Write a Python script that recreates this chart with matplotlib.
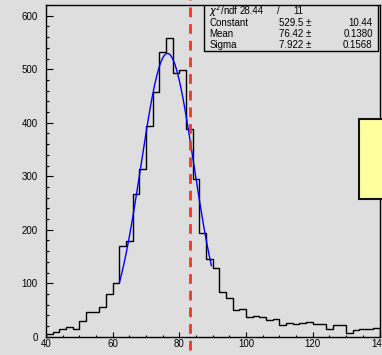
import numpy as np
import matplotlib
matplotlib.use("Agg")
import matplotlib.pyplot as plt
from matplotlib.patches import Rectangle
from matplotlib.ticker import MultipleLocator

plt.rcParams['font.family'] = ['Liberation Sans', 'DejaVu Sans']
plt.rcParams['mathtext.fontset'] = 'dejavusans'

# histogram: 50 bins of width 2 from 40 to 140
x_low = 40
bin_width = 2
counts = [5, 8, 14, 19, 14, 29, 46, 46, 55, 79,
          101, 169, 179, 266, 313, 393, 457, 533, 559, 493,
          498, 389, 294, 193, 145, 128, 83, 72, 50, 51,
          36, 39, 36, 31, 34, 21, 26, 23, 25, 28,
          24, 24, 15, 22, 22, 6, 12, 14, 15, 16]

# gaussian fit result
fit_const, fit_const_err = 529.5, 10.44
fit_mean, fit_mean_err = 76.42, 0.1380
fit_sigma, fit_sigma_err = 7.922, 0.1568
chi2, ndf = 28.44, 11
fit_range = (62, 89.6)

cut_x = 83.3

bg = '#dedede'
fig = plt.figure(figsize=(3.82, 3.55), dpi=100, facecolor=bg)
ax = fig.add_axes([46 / 382, 18.3 / 355, 333.5 / 382, 331.7 / 355])
ax.set_facecolor(bg)

edges = x_low + bin_width * np.arange(len(counts) + 1)
ax.stairs(counts, edges, color='black', lw=1.0, zorder=3)

xf = np.linspace(fit_range[0], fit_range[1], 200)
yf = fit_const * np.exp(-0.5 * ((xf - fit_mean) / fit_sigma) ** 2)
ax.plot(xf, yf, color='#0000ff', lw=1.0, zorder=4)

ax.axvline(cut_x, ymin=-0.04, ymax=1.02, color='#ff3311', lw=2.0,
           dashes=(3.5, 2.5), clip_on=False, zorder=5)

ax.set_xlim(40, 140)
ax.set_ylim(0, 620)
ax.xaxis.set_major_locator(MultipleLocator(20))
ax.xaxis.set_minor_locator(MultipleLocator(5))
ax.yaxis.set_major_locator(MultipleLocator(100))
ax.yaxis.set_minor_locator(MultipleLocator(20))
ax.tick_params(axis='both', which='both', direction='in', top=False, right=False,
               labelsize=7, width=0.8)
ax.tick_params(axis='x', which='major', length=3.6, pad=2)
ax.tick_params(axis='x', which='minor', length=1.8)
ax.tick_params(axis='y', which='major', length=4.8, pad=6)
ax.tick_params(axis='y', which='minor', length=2.4)
for s in ax.spines.values():
    s.set_linewidth(1.0)

# stats box
ax.add_patch(Rectangle((0.473, 0.861), 0.5225, 0.139, transform=ax.transAxes,
                       facecolor=bg, edgecolor='black', lw=1.0, zorder=6))
fs = 7
rows_y = [0.9819, 0.9466, 0.9135, 0.8794]
ax.text(0.4897, rows_y[0], r'$\chi^{2}$/ndf', transform=ax.transAxes, fontsize=fs,
        va='center', ha='left', zorder=7)
ax.text(0.5817, rows_y[0], f'{chi2:.2f}', transform=ax.transAxes, fontsize=fs,
        va='center', ha='left', zorder=7)
ax.text(0.6927, rows_y[0], '/', transform=ax.transAxes, fontsize=fs,
        va='center', ha='left', zorder=7)
ax.text(0.7406, rows_y[0], f'{ndf}', transform=ax.transAxes, fontsize=fs,
        va='center', ha='left', zorder=7)
rows = [('Constant', f'{fit_const:.1f}', f'{fit_const_err:.2f}'),
        ('Mean', f'{fit_mean:.2f}', f'{fit_mean_err:.4f}'),
        ('Sigma', f'{fit_sigma:.3f}', f'{fit_sigma_err:.4f}')]
for y, (name, val, err) in zip(rows_y[1:], rows):
    ax.text(0.4897, y, name, transform=ax.transAxes, fontsize=fs,
            va='center', ha='left', zorder=7)
    ax.text(0.7976, y, val + ' \u00b1', transform=ax.transAxes, fontsize=fs,
            va='center', ha='right', zorder=7)
    ax.text(0.9796, y, err, transform=ax.transAxes, fontsize=fs,
            va='center', ha='right', zorder=7)

# yellow legend pad on the right edge
fig.patches.append(Rectangle((359 / 382, (355 - 198.7) / 355), 0.2, 79.7 / 355,
                             transform=fig.transFigure, facecolor='#ffffa0',
                             edgecolor='#111111', lw=1.5, zorder=10))

fig.savefig('out.png', dpi=100, facecolor=bg)
